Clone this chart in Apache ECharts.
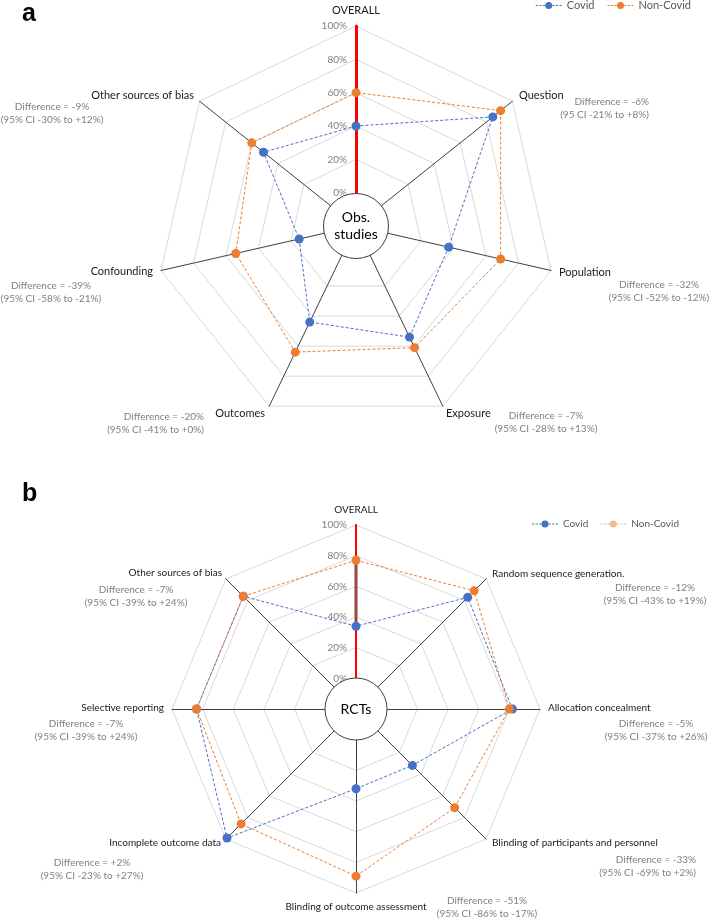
<!DOCTYPE html>
<html><head><meta charset="utf-8">
<script src="https://cdn.jsdelivr.net/npm/echarts@6/dist/echarts.min.js"></script>
<style>html,body{margin:0;padding:0;background:#fff}#c{width:709px;height:920px}</style>
</head><body><div id="c"></div>
<script>
// ---------- data ----------
const axesA = ['OVERALL','Question','Population','Exposure','Outcomes','Confounding','Other sources of bias'];
const covidA = [40, 85, 37, 54, 44, 15, 51];
const nonCovidA = [60, 91, 69, 61, 64, 54, 60];
const diffA = [null,
  'Difference = -6%\n(95 CI -21% to +8%)',
  'Difference = -32%\n(95% CI -52% to -12%)',
  'Difference = -7%\n(95% CI -28% to +13%)',
  'Difference = -20%\n(95% CI -41% to +0%)',
  'Difference = -39%\n(95% CI -58% to -21%)',
  'Difference = -9%\n(95% CI -30% to +12%)'];

const axesB = ['OVERALL','Random sequence generation.','Allocation concealment','Blinding of participants and personnel','Blinding of outcome assessment','Incomplete outcome data','Selective reporting','Other sources of bias'];
const covidB = [34, 83, 82, 32, 32, 99, 84, 84];
const nonCovidB = [77, 89, 80, 71, 89, 86, 84, 84];
const diffB = [null,
  'Difference = -12%\n(95% CI -43% to +19%)',
  'Difference = -5%\n(95% CI -37% to +26%)',
  'Difference = -33%\n(95% CI -69% to +2%)',
  'Difference = -51%\n(95% CI -86% to -17%)',
  'Difference = +2%\n(95% CI -23% to +27%)',
  'Difference = -7%\n(95% CI -39% to +24%)',
  'Difference = -7%\n(95% CI -39% to +24%)'];

const tickValues = [-20, 0, 20, 40, 60, 80, 100];
const seriesNames = ['Covid', 'Non-Covid'];
const centerTextA = 'Obs.\nstudies';
const centerTextB = 'RCTs';
const panelLetters = ['a', 'b'];

// ---------- layout (not data) ----------
const FONT = 'Lato, "Open Sans", sans-serif';
const BLUE = '#4472C4', ORANGE = '#ED7D31';
const nameLayoutA = [[356,10,'center'],[519,95,'left'],[559,272,'left'],[446,413,'left'],[265,413,'right'],[153,271,'right'],[194,95,'right']];
const diffLayoutA = [null,[649,108,'right'],[659,291,'center'],[546,422,'center'],[204,423,'right'],[51,292,'center'],[52,113,'center']];
const nameLayoutB = [[356,510,'center'],[492,574,'left'],[548,708,'left'],[492,843,'left'],[356,907,'center'],[221,843,'right'],[164,708,'right'],[222,573,'right']];
const diffLayoutB = [null,[655,594,'center'],[656,730,'center'],[696,866,'right'],[487,907,'center'],[92,869,'center'],[86,730,'center'],[136,596,'center']];
// legend icon: dashed line with a dot in the middle
const LEGEND_ICON = 'path://M0 3.5h2.2v1h-2.2zM3.6 3.5h2.2v1h-2.2zM7.2 3.5h2.2v1h-2.2zM16.6 3.5h2.2v1h-2.2zM20.2 3.5h2.2v1h-2.2zM23.8 3.5h2.2v1h-2.2zM9.5 4a3.5 3.5 0 1 0 7 0a3.5 3.5 0 1 0 -7 0z';

// ECharts radar runs counter-clockwise; reorder so reference order runs clockwise
function cw(arr){ return [arr[0]].concat(arr.slice(1).reverse()); }

function texts(names, layout, size, color){
  const out = [];
  names.forEach((t, i) => {
    const l = layout[i];
    if (!t || !l) return;
    out.push({type:'text', x:l[0], y:l[1], silent:true,
      style:{text:t, fill:color, font: size + 'px ' + FONT, align:l[2], verticalAlign:'middle', lineHeight:13.4}});
  });
  return out;
}

function radarSeries(idx, covid, non, symSize){
  return [
    {type:'radar', radarIndex:idx, name:seriesNames[0], symbol:'circle', symbolSize:symSize, z:3,
     lineStyle:{color:BLUE, width:1, type:[3,2]}, itemStyle:{color:BLUE},
     emphasis:{disabled:true}, data:[{name:seriesNames[0], value:cw(covid)}]},
    {type:'radar', radarIndex:idx, name:seriesNames[1], symbol:'circle', symbolSize:symSize, z:3,
     lineStyle:{color:ORANGE, width:1, type:[3,2]}, itemStyle:{color:ORANGE},
     emphasis:{disabled:true}, data:[{name:seriesNames[1], value:cw(non)}]}
  ];
}

function radarCfg(axes, center, radius){
  return {
    center:center, radius:radius, startAngle:90, splitNumber:6, shape:'polygon',
    indicator: cw(axes).map(n => ({name:n, min:tickValues[0], max:tickValues[tickValues.length-1]})),
    axisName:{show:false},
    axisLine:{lineStyle:{color:'#404040', width:1}},
    axisTick:{show:false}, axisLabel:{show:false},
    splitLine:{lineStyle:{color:'#D9D9D9', width:1}},
    splitArea:{show:false}
  };
}

function radiusAxisCfg(idx, width, size){
  return {polarIndex:idx, type:'value', min:tickValues[0], max:tickValues[tickValues.length-1], interval:20,
    axisLine:{show:true, lineStyle:{color:'#FF0000', width:width}},
    axisTick:{show:false}, splitLine:{show:false}, z:2,
    axisLabel:{show:true, margin:9, color:'#808080', fontSize:size, fontFamily:FONT,
      formatter: v => v < 0 ? '' : v + '%'}};
}

function centerPie(center, r, text){
  return {type:'pie', center:center, radius:[0, r], silent:true, z:10, animation:false,
    label:{show:true, position:'center', formatter:'{b}', color:'#000', fontSize:14, lineHeight:17, fontFamily:FONT},
    labelLine:{show:false}, emphasis:{disabled:true},
    itemStyle:{color:'#fff', borderColor:'#404040', borderWidth:1},
    data:[{value:1, name:text}]};
}

const chart = echarts.init(document.getElementById('c'), null, {renderer:'canvas'});
const option = {
  animation:false,
  backgroundColor:'#fff',
  legend:[
    {data:seriesNames.map(n => ({name:n, icon:LEGEND_ICON})), top:0, right:18, padding:0, itemWidth:26, itemHeight:8, itemGap:13,
     textStyle:{color:'#595959', fontSize:11, fontFamily:FONT}, selectedMode:false},
    {data:[{name:seriesNames[0], icon:LEGEND_ICON}, {name:seriesNames[1], icon:LEGEND_ICON, itemStyle:{opacity:0.55}}],
     top:519, right:30, padding:0, itemWidth:26, itemHeight:7, itemGap:12,
     textStyle:{color:'#595959', fontSize:10, fontFamily:FONT}, selectedMode:false}
  ],
  radar:[ radarCfg(axesA, [356,226], 200), radarCfg(axesB, [356,709], 184) ],
  polar:[ {center:[356,226], radius:200}, {center:[356,709], radius:184} ],
  angleAxis:[
    {polarIndex:0, type:'value', min:0, max:360, startAngle:90, show:false},
    {polarIndex:1, type:'value', min:0, max:360, startAngle:90, show:false}
  ],
  radiusAxis:[ radiusAxisCfg(0, 3, 10), radiusAxisCfg(1, 2, 10) ],
  series: [].concat(
    radarSeries(0, covidA, nonCovidA, 9),
    radarSeries(1, covidB, nonCovidB, 9),
    [{type:'line', coordinateSystem:'polar', polarIndex:1, symbol:'none', silent:true, z:2,
      lineStyle:{color:'#A0463C', width:3}, data:[[covidB[0],0],[nonCovidB[0],0]]}],
    [centerPie([356,226], 32.5, centerTextA), centerPie([356,709], 31, centerTextB)]
  ),
  graphic: [].concat(
    texts(axesA, nameLayoutA, 11, '#1a1a1a'),
    texts(diffA, diffLayoutA, 10, '#808080'),
    texts(axesB, nameLayoutB, 10, '#1a1a1a'),
    texts(diffB, diffLayoutB, 10, '#808080'),
    [{type:'text', x:22, y:27, silent:true, style:{text:panelLetters[0], fill:'#000', font:'bold 25px "Liberation Sans", Arial, sans-serif', align:'left', verticalAlign:'bottom'}},
     {type:'text', x:22, y:507, silent:true, style:{text:panelLetters[1], fill:'#000', font:'bold 25px "Liberation Sans", Arial, sans-serif', align:'left', verticalAlign:'bottom'}}]
  )
};
chart.setOption(option);
</script></body></html>
